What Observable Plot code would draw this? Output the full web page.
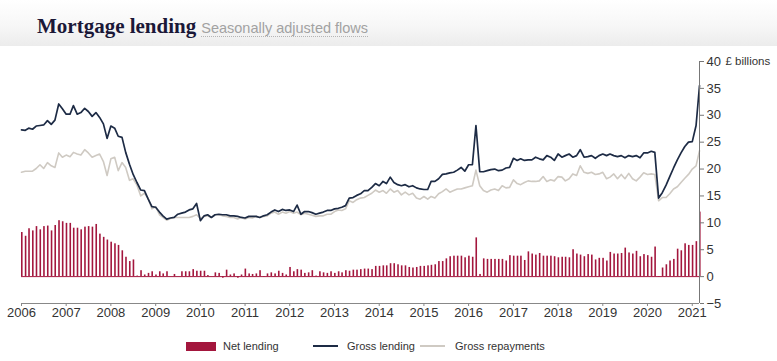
<!DOCTYPE html>
<html><head><meta charset="utf-8">
<script src="https://cdn.jsdelivr.net/npm/d3@7"></script>
<script src="https://cdn.jsdelivr.net/npm/@observablehq/plot@0.6"></script>
<style>
html,body{margin:0;padding:0;background:#fff;overflow:hidden;}
body{width:777px;height:361px;position:relative;font-family:"Liberation Sans",Arial,sans-serif;}
#header{height:46px;background:linear-gradient(#ffffff 0%,#f7f7f7 55%,#ececec 100%);position:relative;}
#title{position:absolute;left:37px;top:14px;white-space:nowrap;}
#title .t{font-family:"Liberation Serif",serif;font-weight:bold;font-size:21px;color:#1b1838;}
#title .s{font-size:14.5px;color:#a2a2a2;margin-left:5px;border-bottom:1px dotted #b5b5b5;}
#chart{position:absolute;left:0;top:46px;}
.lg{position:absolute;font-size:11px;color:#333;top:339px;line-height:14px;}
.sw{position:absolute;}
</style></head>
<body>
<div id="header"><div id="title"><span class="t">Mortgage lending</span><span class="s">Seasonally adjusted flows</span></div></div>
<div id="chart"></div>
<div class="sw" style="left:186px;top:342px;width:30px;height:9px;background:#a3163d"></div>
<div class="lg" style="left:223px">Net lending</div>
<div class="sw" style="left:313px;top:345px;width:25px;height:2px;background:#1d2b45"></div>
<div class="lg" style="left:347px">Gross lending</div>
<div class="sw" style="left:420px;top:345px;width:25px;height:2px;background:#cfcac3"></div>
<div class="lg" style="left:455px">Gross repayments</div>
<script>
// Monthly data, Jan 2006 – Mar 2021 (£ billions)
const startYear = 2006;
const grossLending = [
27.3,27.2,27.6,27.4,28.0,28.1,28.2,29.0,28.3,29.1,32.1,31.2,
30.2,30.2,31.8,30.2,30.5,31.3,30.7,29.8,30.5,29.6,28.4,25.7,
28.0,27.6,26.1,25.9,23.1,20.9,19.0,17.5,16.1,16.0,14.4,13.0,
12.9,12.0,11.3,10.7,10.9,11.0,11.6,11.8,12.0,12.4,12.6,13.6,
10.4,11.3,11.5,11.0,11.5,11.6,11.5,11.5,11.3,11.3,11.2,11.0,
10.9,11.2,11.2,11.2,11.0,11.3,11.5,12.0,12.4,12.1,12.5,12.3,
12.4,12.1,13.3,11.6,12.1,12.1,11.9,11.6,11.8,12.0,12.3,12.3,
12.6,12.7,12.9,13.2,14.6,14.7,15.1,15.4,16.0,16.0,16.6,17.3,
16.9,17.7,17.3,18.5,17.5,17.1,16.9,17.1,16.7,16.9,16.5,16.3,
16.2,16.2,17.7,17.7,18.2,19.0,19.1,19.3,19.4,19.8,20.3,19.6,
20.8,20.8,28.1,19.5,19.5,19.7,19.9,20.0,19.7,19.8,20.2,20.3,
22.0,21.6,21.9,21.6,21.7,21.7,22.2,21.9,21.7,22.5,22.2,21.6,
22.8,22.2,22.5,22.8,22.2,22.5,23.6,22.2,22.3,22.5,22.0,22.5,
22.8,22.5,22.8,22.5,22.3,22.5,22.1,22.5,22.3,22.5,22.1,23.0,
23.0,23.3,23.1,14.6,15.6,17.0,18.6,20.2,21.7,23.0,24.2,25.0,
25.1,28.1,35.5];
const grossRepayments = [
19.4,19.6,19.6,19.6,20.1,20.8,20.1,21.2,20.6,20.3,23.0,22.2,
22.6,22.3,23.1,22.8,22.6,23.6,23.0,22.2,22.5,22.8,21.4,18.8,
21.9,22.2,19.7,21.2,20.3,17.9,18.2,17.0,15.0,15.5,14.5,12.6,
13.0,11.5,11.0,10.5,10.8,11.0,11.0,11.0,11.0,11.0,11.2,11.5,
10.8,11.2,11.3,11.0,11.5,11.5,11.3,11.2,11.0,11.0,10.7,11.0,
10.7,11.0,10.9,11.2,11.0,11.2,11.3,11.8,12.0,11.6,12.0,11.8,
12.1,11.8,12.0,11.5,11.8,11.6,11.4,11.2,11.3,11.3,11.6,11.6,
12.1,12.4,12.3,12.6,14.1,13.8,14.3,14.6,14.7,15.1,15.5,16.1,
15.7,16.0,15.5,16.3,15.7,16.0,15.2,15.7,15.2,15.5,14.6,14.4,
14.9,14.4,14.9,14.6,15.4,15.8,16.3,15.7,16.0,16.3,16.3,16.5,
16.7,16.9,19.8,16.9,16.0,15.7,16.1,16.3,16.0,16.9,16.5,16.6,
18.0,17.3,17.1,17.5,17.8,17.7,17.7,17.8,18.6,17.7,18.0,17.8,
18.6,18.5,17.8,18.2,19.1,18.8,20.6,19.4,19.2,19.4,19.0,19.1,
19.4,18.2,18.5,19.1,18.2,19.0,18.2,19.2,18.2,17.8,18.5,19.3,
19.0,19.1,19.0,14.1,14.7,14.7,15.4,16.3,16.7,17.5,18.3,19.0,
20.0,20.6,23.4];
const netLending = [
8.2,7.5,8.9,8.5,9.3,8.7,9.3,9.4,8.5,9.5,10.4,10.2,
9.9,9.9,9.0,9.0,8.7,9.2,9.3,9.2,9.7,7.9,7.3,6.8,
6.4,6.1,5.8,4.8,3.6,2.8,3.1,0.1,1.1,0.3,0.6,0.9,
0.3,0.9,0.5,0.9,0.0,0.4,0.0,0.9,0.9,0.9,1.3,1.0,
1.0,1.0,0.2,0.0,0.7,0.6,-0.3,1.2,0.3,0.5,-0.3,0.3,
1.4,0.5,0.4,0.5,1.1,-0.1,0.5,0.7,0.5,1.0,0.6,0.3,
1.7,0.9,1.3,1.2,0.6,0.7,1.1,0.1,0.9,0.7,0.6,0.9,
0.6,0.9,0.7,1.1,1.0,1.2,1.2,1.3,1.4,1.4,1.3,1.9,
1.9,2.0,2.0,2.4,2.4,2.2,2.0,2.0,1.7,1.6,1.7,1.9,
1.9,2.0,2.1,2.2,2.8,2.8,3.3,3.7,3.8,3.8,3.8,3.5,
3.8,3.6,7.2,0.4,3.3,3.2,3.2,3.2,3.2,3.2,2.9,3.9,
3.8,3.8,3.8,3.0,4.6,4.2,4.0,4.3,3.8,3.8,3.8,3.7,
3.5,3.6,3.6,3.5,5.0,4.2,4.0,3.7,4.1,4.0,3.1,3.4,
3.4,2.9,4.5,4.2,4.2,4.3,5.3,4.4,4.2,4.7,3.7,4.1,
3.9,3.6,5.5,-0.1,1.6,2.2,2.9,3.2,5.1,4.8,6.1,5.8,
5.8,6.5,12.0];
const xTickYears = [2006,2007,2008,2009,2010,2011,2012,2013,2014,2015,2016,2017,2018,2019,2020,2021];
const yTicks = [-5,0,5,10,15,20,25,30,35,40];
const unitLabel = "£ billions";

const rows = netLending.map((v, i) => ({
  date: new Date(Date.UTC(startYear, i, 1)),
  date2: new Date(Date.UTC(startYear, i, 14)),
  net: v, gross: grossLending[i], repay: grossRepayments[i]
}));
const xEnd = rows[rows.length - 1].date;
const xTicks = xTickYears.map(y => new Date(Date.UTC(y, 0, 1)));

const chart = Plot.plot({
  width: 777, height: 290,
  marginLeft: 21, marginRight: 78, marginTop: 15, marginBottom: 33,
  style: {fontFamily: "Liberation Sans, Arial, sans-serif", fontSize: "13px", color: "#333", background: "transparent"},
  x: {type: "utc", domain: [rows[0].date, xEnd], ticks: xTicks, tickFormat: d3.utcFormat("%Y"), label: null},
  y: {domain: [-5, 40], ticks: yTicks, label: null},
  marks: [
    Plot.rectY(rows, {x1: "date", x2: "date2", y: "net", fill: "#a3163d"}),
    Plot.ruleY([0], {stroke: "#a3163d", strokeWidth: 1}),
    Plot.line(rows, {x: "date", y: "repay", stroke: "#cfcac3", strokeWidth: 1.6}),
    Plot.line(rows, {x: "date", y: "gross", stroke: "#1d2b45", strokeWidth: 1.7}),
    Plot.ruleY([-5], {stroke: "#888", strokeWidth: 1}),
    Plot.ruleX([xEnd], {stroke: "#777", strokeWidth: 1}),
    Plot.axisX({ticks: xTicks, tickFormat: d3.utcFormat("%Y"), tickSize: 3, tickPadding: 1, label: null, stroke: "#888", fill: "#333"}),
    Plot.axisY({anchor: "right", ticks: yTicks, tickSize: 4, tickPadding: 3, label: null, stroke: "#777", fill: "#333"}),
    Plot.text([unitLabel], {x: () => xEnd, y: () => 40, text: d => d, dx: 26, textAnchor: "start", fontSize: 11.5, fill: "#333"})
  ]
});
document.getElementById("chart").appendChild(chart);
</script>
</body></html>
